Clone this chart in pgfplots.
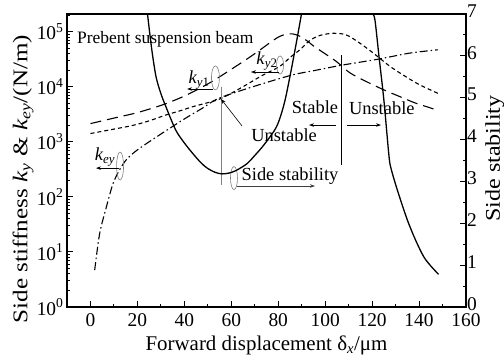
\documentclass[border=0pt]{standalone}
\usepackage{fontspec}
\setmainfont{Liberation Serif}
\usepackage{graphicx}
\usepackage{pgfplots}
\pgfplotsset{compat=1.18}
\usetikzlibrary{arrows.meta}
\tikzset{
  ann/.style={font=\fontsize{18.5}{20}\selectfont, inner sep=0pt},
  arr/.style={-{Stealth[length=5bp,width=3.5bp]}, line width=0.6bp},
}

\begin{document}
\begin{tikzpicture}
\path[use as bounding box] (-67bp,-51bp) rectangle (437bp,307bp);
\begin{axis}[
  at={(0,0)}, anchor=south west,
  width=399bp, height=293bp, scale only axis,
  xmin=-10, xmax=160, ymode=log, ymin=1, ymax=2.09e5,
  xtick={0,20,...,160}, minor xtick={10,30,...,150},
  ytick={1,10,100,1000,10000,100000},
  yticklabels={10\textsuperscript{0},10\textsuperscript{1},10\textsuperscript{2},10\textsuperscript{3},10\textsuperscript{4},10\textsuperscript{5}},
  minor ytick={2,3,4,5,6,7,8,9,20,30,40,50,60,70,80,90,200,300,400,500,600,700,800,900,2000,3000,4000,5000,6000,7000,8000,9000,20000,30000,40000,50000,60000,70000,80000,90000,200000},
  xtick pos=left, ytick pos=left,
  tick align=inside,
  major tick length=6bp, minor tick length=3.5bp,
  every tick/.style={black, line width=0.9bp},
  axis line style={line width=1.2bp},
  /pgf/number format/assume math mode=true,
  tick label style={font=\fontsize{19.5}{20}\selectfont},
  xticklabel style={yshift=-5bp, inner sep=1bp},
  label style={font=\fontsize{21}{22}\selectfont},
  xlabel={Forward displacement δ\textsubscript{\textit{x}}/μm},
  xlabel style={at={(axis description cs:0.5,-0.147)}, anchor=base},
  ylabel={\scalebox{1.2}[1]{Side stiffness \textit{k}\textsubscript{\textit{y}} \& \textit{k}\textsubscript{\textit{ey}}/(N/m)}},
  ylabel style={at={(axis description cs:-0.0995,0.437)}, anchor=base},
]
% k_y1 (long dash)
\addplot[black, line width=1.1bp, dash pattern=on 11bp off 6bp, smooth] coordinates {
(0,2138) (10,2692) (20,3388) (30,4571) (35,5495) (40,6761) (46.6,9333) (52.8,13183)
(59.4,19953) (66.6,31623) (72,45709) (76.5,63096) (80,79433) (83,89125)
(86,91201) (89,83176) (92.7,66069) (95,54954) (100.6,38019) (105,28184)
(110.6,17783) (117.7,12303) (124.6,8913) (131.8,6607) (138,5129) (143,4365) (148,3715)};
% k_y2 (short dash)
\addplot[black, line width=1.1bp, dash pattern=on 4bp off 3bp, smooth] coordinates {
(0,1413) (10,1698) (18.3,1995) (25,2399) (32.4,3090) (38,3631) (43.8,4365) (50,5129) (55.9,6166)
(65,10000) (73,15849) (80.7,23442) (85,33884) (89.2,46774) (93.5,69183)
(97.7,85114) (103.4,93325) (109,87096) (114.8,61660) (120.5,40738)
(127.6,23442) (133.3,16218) (140,10965) (148,7586)};
% k_ey (dash dot)
\addplot[black, line width=1.1bp, dash pattern=on 8bp off 3bp on 1.5bp off 3bp, smooth] coordinates {
(1.8,4.68) (3.9,21.4) (6.8,66.1) (9.6,173.8) (12.4,309) (15.2,467.7) (19,661)
(25,1000) (33.6,1738) (40.6,2692) (47.7,4074) (54.7,6166)
(70,10233) (85.7,16218) (95,19498) (107,24547) (122.6,31623) (136,40738) (148,46774)};
% annotations
\node[font=\fontsize{17.5}{18}\selectfont, anchor=base west, inner sep=0pt] at (axis description cs:0.0251,0.901) {Prebent suspension beam};
% k_y1
\node[ann] at (axis description cs:0.331,0.775) {\textit{k}\textsubscript{\textit{y}1}};
\draw[gray, line width=0.6bp] (axis description cs:0.372,0.782) ellipse [x radius=4bp, y radius=12bp];
\draw[arr] (axis description cs:0.366,0.744) -- (axis description cs:0.301,0.744);
% k_y2
\node[ann] at (axis description cs:0.501,0.840) {\textit{k}\textsubscript{\textit{y}2}};
\draw[gray, line width=0.6bp] (axis description cs:0.534,0.826) ellipse [x radius=3.5bp, y radius=9bp];
\draw[arr] (axis description cs:0.531,0.802) -- (axis description cs:0.461,0.802);
% k_ey
\node[ann] at (axis description cs:0.0952,0.512) {\textit{k}\textsubscript{\textit{ey}}};
\draw[gray, line width=0.6bp] (axis description cs:0.133,0.481) ellipse [x radius=3.5bp, y radius=14bp];
\draw[arr] (axis description cs:0.130,0.474) -- (axis description cs:0.0727,0.474);
% Unstable 1
\draw[gray, line width=1bp] (axis description cs:0.386,0.751) -- (axis description cs:0.386,0.416);
\node[ann] at (axis description cs:0.544,0.587) {Unstable};
\draw[arr] (axis description cs:0.4386,0.618) -- (axis description cs:0.386,0.710);
% Side stability
\node[ann] at (axis description cs:0.559,0.447) {Side stability};
\draw[gray, line width=0.6bp] (axis description cs:0.4185,0.440) ellipse [x radius=3.5bp, y radius=11.5bp];
\draw[arr, black!75] (axis description cs:0.426,0.413) -- (axis description cs:0.6216,0.413);
% Stable / Unstable
\draw[line width=0.8bp] (axis description cs:0.6885,0.860) -- (axis description cs:0.6885,0.485);
\node[ann] at (axis description cs:0.6216,0.683) {Stable};
\node[ann] at (axis description cs:0.789,0.679) {Unstable};
\draw[arr] (axis description cs:0.674,0.621) -- (axis description cs:0.6065,0.621);
\draw[arr] (axis description cs:0.7018,0.621) -- (axis description cs:0.787,0.621);
\end{axis}
\begin{axis}[
  at={(0,0)}, anchor=south west,
  width=399bp, height=293bp, scale only axis,
  xmin=-10, xmax=160, ymin=0, ymax=7,
  hide x axis,
  ytick={0,1,...,7}, minor y tick num=1, ytick pos=right,
  tick align=inside,
  major tick length=6bp, minor tick length=3.5bp,
  every tick/.style={black, line width=0.9bp},
  axis line style={line width=1.2bp},
  /pgf/number format/assume math mode=true,
  tick label style={font=\fontsize{19.5}{20}\selectfont},
  yticklabel style={yshift=3bp, inner sep=1bp},
  label style={font=\fontsize{21}{22}\selectfont},
  ylabel={\scalebox{1.15}[1]{Side stability}},
  ylabel style={at={(axis description cs:1.085,0.507)}, anchor=base},
]
\addplot[black, line width=1.3bp, smooth] coordinates {
(24.3,7.0) (26,6.2) (27.9,5.51) (30,5.1) (32.1,4.79) (36.3,4.23) (40,3.92)
(43.4,3.68) (47,3.45) (49.7,3.32) (53,3.22) (56,3.18) (59,3.20) (62,3.26)
(66.6,3.42) (70,3.62) (74,3.88) (79.3,4.31) (82.5,4.85) (85,5.51) (87.7,6.31) (89.9,7.0)};
\addplot[black, line width=1.3bp, smooth] coordinates {
(120.2,7.0) (121.2,6.86) (123,5.95) (125,4.95) (127.2,3.6) (128.2,3.28)
(131,2.75) (135,2.08) (138.5,1.6) (142,1.2) (145,0.98) (148.3,0.78)};
\end{axis}
\end{tikzpicture}
\end{document}
